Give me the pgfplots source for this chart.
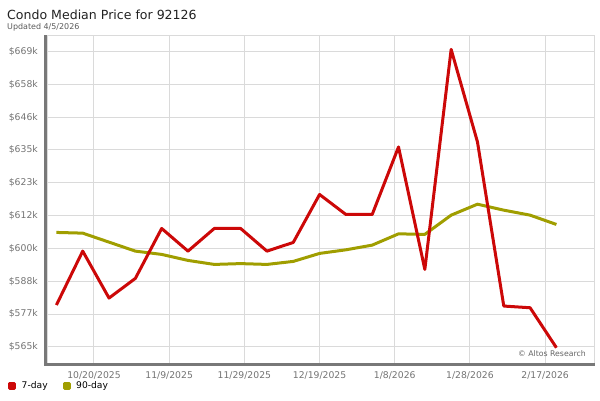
\documentclass[border=0pt]{standalone}
\usepackage{pgfplots}
\pgfplotsset{compat=1.18}
\usepackage{fontspec}
\setmainfont{DejaVu Sans}
\definecolor{red7}{RGB}{204,8,8}
\definecolor{olive90}{RGB}{160,158,0}
\definecolor{gridgray}{RGB}{218,218,218}
\definecolor{axisgray}{RGB}{120,120,120}
\definecolor{labelgray}{RGB}{115,115,115}

\begin{document}
\begin{tikzpicture}[x=1bp,y=1bp]
\useasboundingbox (0,0) rectangle (600,400);
\begin{axis}[
    at={(47bp,37bp)}, anchor=south west,
    width=547bp, height=327bp, scale only axis,
    xmin=-12.5, xmax=133, ymin=559.6, ymax=674.9,
    axis line style={draw=gridgray, line width=1bp},
    grid=major, grid style={draw=gridgray, line width=1bp},
    major tick length=0pt,
    xtick={0,20,40,60,80,100,120},
    xticklabels={10/20/2025,11/9/2025,11/29/2025,12/19/2025,1/8/2026,1/28/2026,2/17/2026},
    ytick={565.29,576.86,588.43,600,611.57,623.14,634.71,646.28,657.85,669.42},
    yticklabels={\$565k,\$577k,\$588k,\$600k,\$612k,\$623k,\$635k,\$646k,\$658k,\$669k},
    ticklabel style={font=\fontsize{9.3}{11}\selectfont, text=labelgray, inner sep=0pt},
    yticklabel style={anchor=east, xshift=-9bp},
    xticklabel style={anchor=north, yshift=-8bp},
    legend columns=2, reverse legend,
    legend style={at={(-0.0713,-0.0694)}, anchor=west, draw=none, fill=none,
        inner sep=0pt, font=\fontsize{9.2}{11}\selectfont,
        nodes={inner sep=0pt},
        /tikz/every odd column/.append style={column sep=5.5bp},
        /tikz/every even column/.append style={column sep=15bp}},
    legend image code/.code={\fill[#1] (0bp,-2.5bp) rectangle (5bp,2.5bp);},
]
\addplot[olive90, line width=3bp, line join=round] coordinates {
(-10,605.64) (-3,605.39) (4,602.22) (11,599.05) (18,597.89) (25,595.77) (32,594.36)
(39,594.65) (46,594.36) (53,595.42) (60,598.24) (67,599.51) (74,601.16) (81,605.14)
(88,604.96) (95,611.73) (102,615.60) (109,613.49) (116,611.73) (123,608.45)
};
\addlegendentry{90-day}
\addplot[red7, line width=3bp, line join=round] coordinates {
(-10,580.03) (-3,599.05) (4,582.50) (11,589.43) (18,607.04) (25,599.05) (32,607.04)
(39,607.04) (46,599.05) (53,602.11) (60,619.02) (67,611.97) (74,611.97) (81,635.78)
(88,592.60) (95,670.19) (102,637.54) (109,579.68) (116,579.08) (123,564.99)
};
\addlegendentry{7-day}
\end{axis}
% thick axis lines
\draw[axisgray, line width=3bp] (45.7,365) -- (45.7,35.4) -- (595,35.4);
% title and notes
\node[anchor=base west, inner sep=0pt, text={rgb,255:red,34;green,34;blue,34},
      font=\fontsize{12.6}{15}\selectfont] at (7,381) {Condo Median Price for 92126};
\node[anchor=base west, inner sep=0pt, text={rgb,255:red,90;green,90;blue,90},
      font=\fontsize{8}{10}\selectfont] at (7,371) {Updated 4/5/2026};
\node[anchor=east, inner sep=0pt, text={rgb,255:red,100;green,100;blue,100},
      font=\fontsize{7.8}{9}\selectfont] at (586,46) {© Altos Research};
\end{tikzpicture}
\end{document}
